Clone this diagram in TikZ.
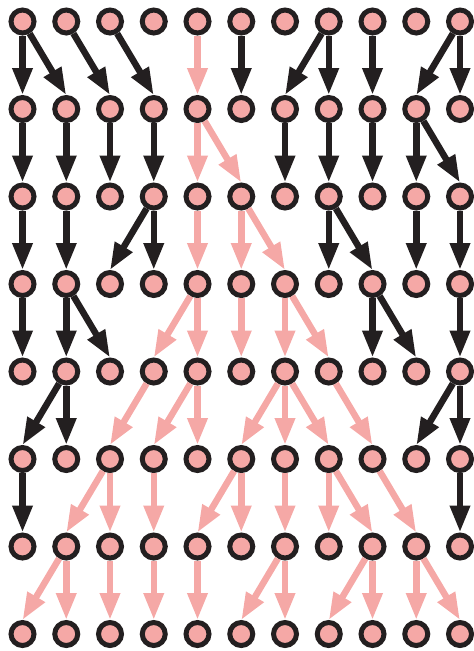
\documentclass[tikz,border=0pt]{standalone}
\usetikzlibrary{arrows.meta}
\definecolor{inkdark}{HTML}{231F20}
\definecolor{rosefill}{HTML}{F5A8A6}
\begin{document}
\begin{tikzpicture}[x=1pt,y=-1pt,
  ind/.style={circle,draw=inkdark,line width=5pt,fill=rosefill,minimum size=23pt,inner sep=0pt},
  darkedge/.style={draw=inkdark,line width=6.5pt,-{Triangle[length=27pt,width=19pt]}},
  roseedge/.style={draw=rosefill,line width=6.5pt,-{Triangle[length=27pt,width=19pt]}}]
\useasboundingbox (0,0) rectangle (474,651);
% grid of individuals: 11 per generation, 8 generations
\foreach \c in {0,...,10}
  \foreach \r in {0,...,7}
    \node[ind] (n\c-\r) at ({22.5+43.75*\c},{21.5+87.5*\r}) {};
% parent -> offspring links (generation/parent column/child column),
% each arrow aimed at the top of the child
\foreach \r/\a/\b in {0/0/0,0/0/1,0/1/2,0/2/3,0/5/5,0/7/6,0/7/7,0/8/8,0/10/9,0/10/10,
    1/0/0,1/1/1,1/2/2,1/3/3,1/6/6,1/7/7,1/8/8,1/9/9,1/9/10,
    2/0/0,2/1/1,2/3/2,2/3/3,2/7/7,2/7/8,2/9/9,2/10/10,
    3/0/0,3/1/1,3/1/2,3/8/8,3/8/9,3/10/10,
    4/1/0,4/1/1,4/10/9,4/10/10,
    5/0/0,5/10/10}
  {\pgfmathtruncatemacro\s{\r+1}
   \draw[darkedge] (n\a-\r) -- (n\b-\s.north);}
% lineage descending from one founder
\foreach \r/\a/\b in {0/4/4,
    1/4/4,1/4/5,
    2/4/4,2/5/5,2/5/6,
    3/4/3,3/4/4,3/5/5,3/6/6,3/6/7,
    4/3/2,4/4/3,4/4/4,4/6/5,4/6/6,4/6/7,4/7/8,
    5/2/1,5/2/2,5/3/3,5/5/4,5/5/5,5/6/6,5/7/7,5/7/8,5/8/9,
    6/1/0,6/1/1,6/2/2,6/3/3,6/4/4,6/6/5,6/6/6,6/8/7,6/8/8,6/9/9,6/9/10}
  {\pgfmathtruncatemacro\s{\r+1}
   \draw[roseedge] (n\a-\r) -- (n\b-\s.north);}
\end{tikzpicture}
\end{document}
